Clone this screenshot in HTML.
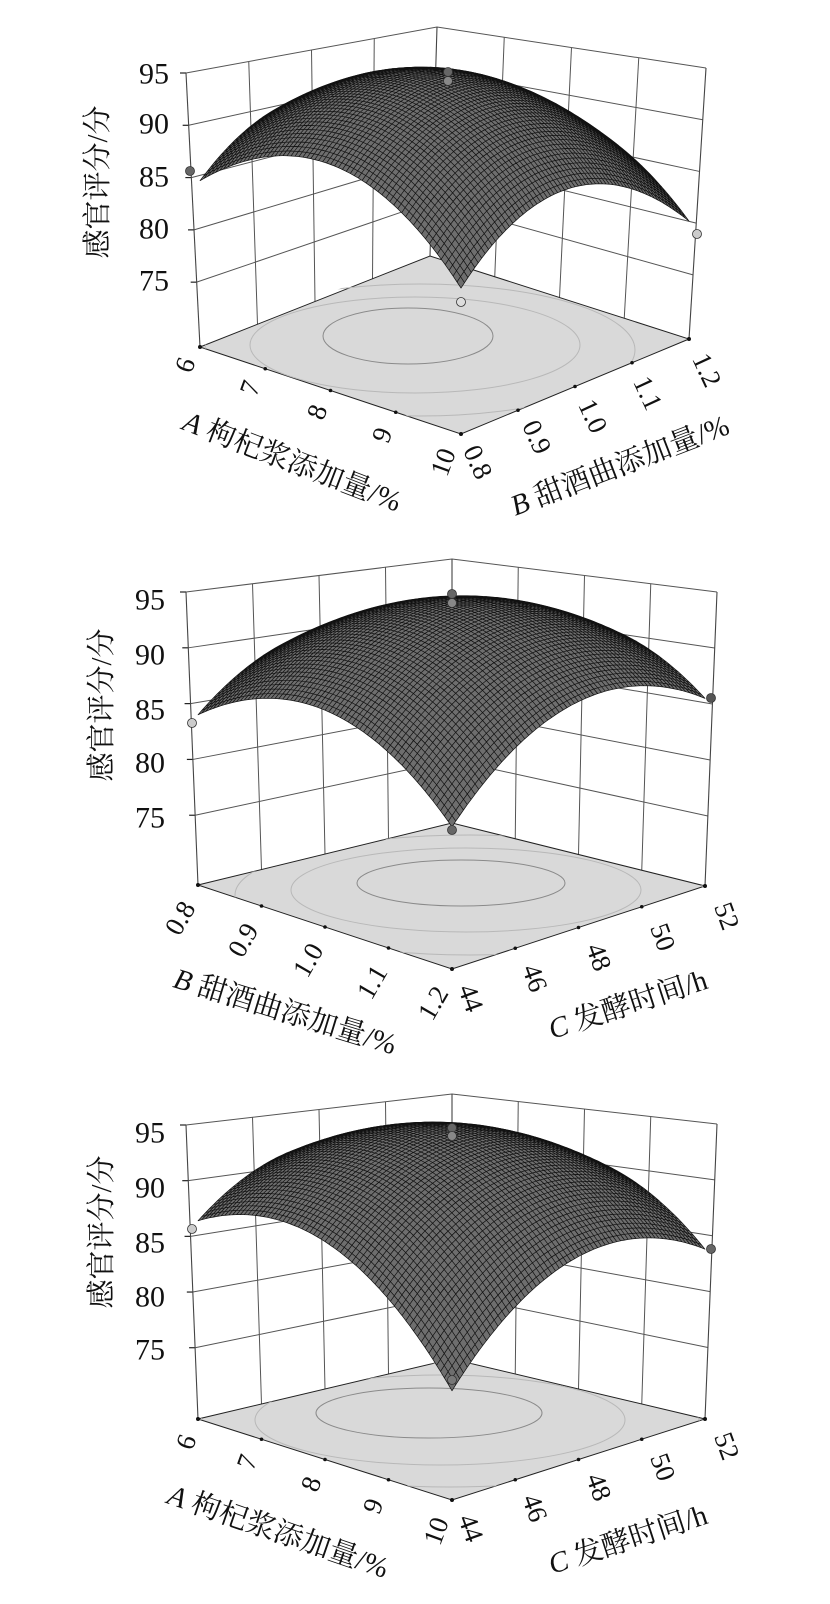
<!DOCTYPE html>
<html><head><meta charset="utf-8">
<style>
html,body{margin:0;padding:0;background:#fff;}
svg{display:block;}
.zt{font-family:"Liberation Serif","Noto Serif CJK SC",serif;font-size:30px;fill:#111;}
.tk{font-family:"Liberation Serif","Noto Serif CJK SC",serif;font-size:27px;fill:#111;}
.ti{font-family:"Liberation Serif","Noto Serif CJK SC",serif;font-size:29px;fill:#111;}
</style></head><body>
<svg id="s" width="830" height="1604" viewBox="0 0 830 1604" xmlns="http://www.w3.org/2000/svg">
<defs>
<clipPath id="c1"><polygon points="200,347 461,434 689,339 428,252"/></clipPath>
<clipPath id="c2"><polygon points="198,885 452,969 705,886 452,823"/></clipPath>
<clipPath id="c3"><polygon points="198,1419 452,1500 705,1419 452,1359"/></clipPath>
</defs>
<g id="g1"></g><g id="g2"></g><g id="g3"></g>

<g class="zt" text-anchor="middle" dominant-baseline="central">
<text x="154" y="74">95</text><text x="154" y="124">90</text><text x="154" y="177">85</text><text x="154" y="229">80</text><text x="154" y="281">75</text>
</g>
<text class="ti" transform="translate(98,182) rotate(-90)" text-anchor="middle" dominant-baseline="central">感官评分/分</text>
<g class="tk" text-anchor="middle" dominant-baseline="central">
<text transform="translate(185,365) rotate(-70)">6</text>
<text transform="translate(250,388) rotate(-70)">7</text>
<text transform="translate(317,412) rotate(-70)">8</text>
<text transform="translate(382,435) rotate(-70)">9</text>
<text transform="translate(443,462) rotate(-70)">10</text>
<text transform="translate(478,462) rotate(65)">0.8</text>
<text transform="translate(537,437) rotate(65)">0.9</text>
<text transform="translate(593,416) rotate(65)">1.0</text>
<text transform="translate(648,393) rotate(65)">1.1</text>
<text transform="translate(707,370) rotate(65)">1.2</text>
</g>
<text class="ti" transform="translate(292,462) rotate(21)" text-anchor="middle" dominant-baseline="central"><tspan font-style="italic">A</tspan> 枸杞浆添加量/%</text>
<text class="ti" transform="translate(620,466) rotate(-21)" text-anchor="middle" dominant-baseline="central"><tspan font-style="italic">B</tspan> 甜酒曲添加量/%</text>

<g class="zt" text-anchor="middle" dominant-baseline="central">
<text x="150" y="600">95</text><text x="150" y="655">90</text><text x="150" y="710">85</text><text x="150" y="763">80</text><text x="150" y="818">75</text>
</g>
<text class="ti" transform="translate(102,705) rotate(-90)" text-anchor="middle" dominant-baseline="central">感官评分/分</text>
<g class="tk" text-anchor="middle" dominant-baseline="central">
<text transform="translate(180,918) rotate(-60)">0.8</text>
<text transform="translate(243,940) rotate(-60)">0.9</text>
<text transform="translate(308,960) rotate(-60)">1.0</text>
<text transform="translate(372,982) rotate(-60)">1.1</text>
<text transform="translate(433,1003) rotate(-60)">1.2</text>
<text transform="translate(471,998) rotate(70)">44</text>
<text transform="translate(535,978) rotate(70)">46</text>
<text transform="translate(599,957) rotate(70)">48</text>
<text transform="translate(663,937) rotate(70)">50</text>
<text transform="translate(727,916) rotate(70)">52</text>
</g>
<text class="ti" transform="translate(285,1012) rotate(17)" text-anchor="middle" dominant-baseline="central"><tspan font-style="italic">B</tspan> 甜酒曲添加量/%</text>
<text class="ti" transform="translate(628,1005) rotate(-18)" text-anchor="middle" dominant-baseline="central"><tspan font-style="italic">C</tspan> 发酵时间/h</text>

<g class="zt" text-anchor="middle" dominant-baseline="central">
<text x="150" y="1133">95</text><text x="150" y="1188">90</text><text x="150" y="1243">85</text><text x="150" y="1297">80</text><text x="150" y="1350">75</text>
</g>
<text class="ti" transform="translate(102,1232) rotate(-90)" text-anchor="middle" dominant-baseline="central">感官评分/分</text>
<g class="tk" text-anchor="middle" dominant-baseline="central">
<text transform="translate(186,1442) rotate(-70)">6</text>
<text transform="translate(247,1462) rotate(-70)">7</text>
<text transform="translate(311,1484) rotate(-70)">8</text>
<text transform="translate(373,1506) rotate(-70)">9</text>
<text transform="translate(436,1531) rotate(-70)">10</text>
<text transform="translate(471,1528) rotate(70)">44</text>
<text transform="translate(535,1508) rotate(70)">46</text>
<text transform="translate(599,1487) rotate(70)">48</text>
<text transform="translate(663,1467) rotate(70)">50</text>
<text transform="translate(727,1446) rotate(70)">52</text>
</g>
<text class="ti" transform="translate(278,1532) rotate(19)" text-anchor="middle" dominant-baseline="central"><tspan font-style="italic">A</tspan> 枸杞浆添加量/%</text>
<text class="ti" transform="translate(628,1540) rotate(-18)" text-anchor="middle" dominant-baseline="central"><tspan font-style="italic">C</tspan> 发酵时间/h</text>
</svg>
<script>
(function(){
var NS="http://www.w3.org/2000/svg";
function el(parent,tag,attrs){var e=document.createElementNS(NS,tag);for(var k in attrs)e.setAttribute(k,attrs[k]);parent.appendChild(e);return e;}
function lerp(p,q,t){return [p[0]+(q[0]-p[0])*t,p[1]+(q[1]-p[1])*t];}
function panel(g,c){
  var z0=c.z0,H=95-z0;
  var kL=(c.L[1]-c.LT[1])/H,kR=(c.R[1]-c.RT[1])/H,kB=(c.B[1]-c.BT[1])/H,kF=kL+kR-kB;
  function proj(a,b,z){
    var w1=(1-a)*(1-b),w2=a*(1-b),w3=a*b,w4=(1-a)*b;
    var x=c.L[0]*w1+c.F[0]*w2+c.R[0]*w3+c.B[0]*w4;
    var y=c.L[1]*w1+c.F[1]*w2+c.R[1]*w3+c.B[1]*w4;
    var k=kL*w1+kF*w2+kR*w3+kB*w4;
    return [x,y-(z-z0)*k];
  }
  var zL=c.zL,zF=c.zF,zR=c.zR,zB=c.zB,b0=c.b0;
  var b1=(zF+zR-zL-zB)/4,b2=(zR+zB-zL-zF)/4,b12=(zL+zR-zF-zB)/4,bq=((zL+zF+zR+zB)/4-b0)/2;
  function Z(a,b){var u=2*a-1,v=2*b-1;return b0+b1*u+b2*v+b12*u*v+bq*u*u+bq*v*v;}
  var st="#555",sw=1;
  [95,90,85,80,75].forEach(function(z){
    var s=(z-z0)/H;
    var p1=lerp(c.L,c.LT,s),p2=lerp(c.B,c.BT,s),p3=lerp(c.R,c.RT,s);
    el(g,"polyline",{points:p1+" "+p2+" "+p3,fill:"none",stroke:st,"stroke-width":sw});
    el(g,"line",{x1:p1[0]-6,y1:p1[1],x2:p1[0],y2:p1[1],stroke:"#222","stroke-width":1.2});
  });
  [0.25,0.5,0.75].forEach(function(t){
    var a=lerp(c.L,c.B,t),b=lerp(c.LT,c.BT,t);
    el(g,"line",{x1:a[0],y1:a[1],x2:b[0],y2:b[1],stroke:st,"stroke-width":sw});
    a=lerp(c.B,c.R,t);b=lerp(c.BT,c.RT,t);
    el(g,"line",{x1:a[0],y1:a[1],x2:b[0],y2:b[1],stroke:st,"stroke-width":sw});
  });
  [[c.L,c.LT],[c.B,c.BT],[c.R,c.RT]].forEach(function(p){
    el(g,"line",{x1:p[0][0],y1:p[0][1],x2:p[1][0],y2:p[1][1],stroke:"#444","stroke-width":1.1});
  });
  el(g,"polygon",{points:[c.L,c.F,c.R,c.B].join(" "),fill:"#d9d9d9",stroke:"#222","stroke-width":1});
  var cg=el(g,"g",{"clip-path":"url(#"+c.clip+")"});
  c.ell.forEach(function(e,i){
    el(cg,"ellipse",{cx:e[0],cy:e[1],rx:e[2],ry:e[3],fill:"none",stroke:i==0?"#8a8a8a":"#b8b8b8","stroke-width":1});
  });
  [0.25,0.5,0.75].forEach(function(t){
    var a=lerp(c.L,c.F,t),b=lerp(c.F,c.R,t);
    el(g,"circle",{cx:a[0],cy:a[1],r:1.8,fill:"#111"});
    el(g,"circle",{cx:b[0],cy:b[1],r:1.8,fill:"#111"});
  });
  [c.L,c.F,c.R].forEach(function(p){el(g,"circle",{cx:p[0],cy:p[1],r:2,fill:"#111"});});
  var N=66,quads=[];
  for(var i=0;i<N;i++)for(var j=0;j<N;j++){
    var a0=i/N,a1=(i+1)/N,b0_=j/N,b1_=(j+1)/N;
    var p=[proj(a0,b0_,Z(a0,b0_)),proj(a1,b0_,Z(a1,b0_)),proj(a1,b1_,Z(a1,b1_)),proj(a0,b1_,Z(a0,b1_))];
    quads.push({d:(a0+a1)/2-(b0_+b1_)/2,p:p});
  }
  quads.sort(function(x,y){return x.d-y.d;});
  var chunk=300;
  for(var s=0;s<quads.length;s+=chunk){
    var d="";
    for(var t=s;t<Math.min(s+chunk,quads.length);t++){
      var q=quads[t];
      d+="M"+q.p[0][0].toFixed(1)+","+q.p[0][1].toFixed(1);
      for(var m=1;m<4;m++)d+="L"+q.p[m][0].toFixed(1)+","+q.p[m][1].toFixed(1);
      d+="Z";
    }
    el(g,"path",{d:d,fill:"#6e6e6e",stroke:"#111","stroke-width":0.7,"stroke-linejoin":"round"});
  }
  c.dots.forEach(function(d){
    el(g,"circle",{cx:d[0],cy:d[1],r:4.5,fill:d[2],stroke:"#333","stroke-width":0.8});
  });
}
panel(document.getElementById("g1"),{
  L:[200,347],F:[461,434],R:[689,339],B:[430,256],
  LT:[186,73],BT:[437,27],RT:[706,68],z0:68.8,
  zL:84.7,zF:80.9,zR:80.2,zB:84,b0:94.6,clip:"c1",
  ell:[[408,336,85,28],[415,345,165,48],[420,350,215,66]],
  dots:[[190,171,"#666"],[448,72,"#666"],[448,81,"#888"],[461,302,"#ddd"],[697,234,"#ccc"]]
});
panel(document.getElementById("g2"),{
  L:[198,885],F:[452,969],R:[705,886],B:[452,823],
  LT:[186,592],BT:[452,559],RT:[717,592],z0:68.75,
  zL:84.0,zF:80.3,zR:85.5,zB:86,b0:94.1,clip:"c2",
  ell:[[461,883,104,23],[466,890,175,42],[470,895,235,60]],
  dots:[[192,723,"#ccc"],[452,594,"#666"],[452,603,"#888"],[452,830,"#666"],[711,698,"#555"]]
});
panel(document.getElementById("g3"),{
  L:[198,1419],F:[452,1500],R:[705,1419],B:[452,1359],
  LT:[186,1125],BT:[452,1094],RT:[717,1124],z0:68.6,
  zL:86.4,zF:77.5,zR:83.8,zB:87,b0:94.2,clip:"c3",
  ell:[[429,1413,113,25],[440,1420,185,45],[450,1425,250,62]],
  dots:[[192,1229,"#ccc"],[452,1128,"#666"],[452,1136,"#888"],[452,1380,"#777"],[711,1249,"#666"]]
});
})();
</script>
</body></html>
